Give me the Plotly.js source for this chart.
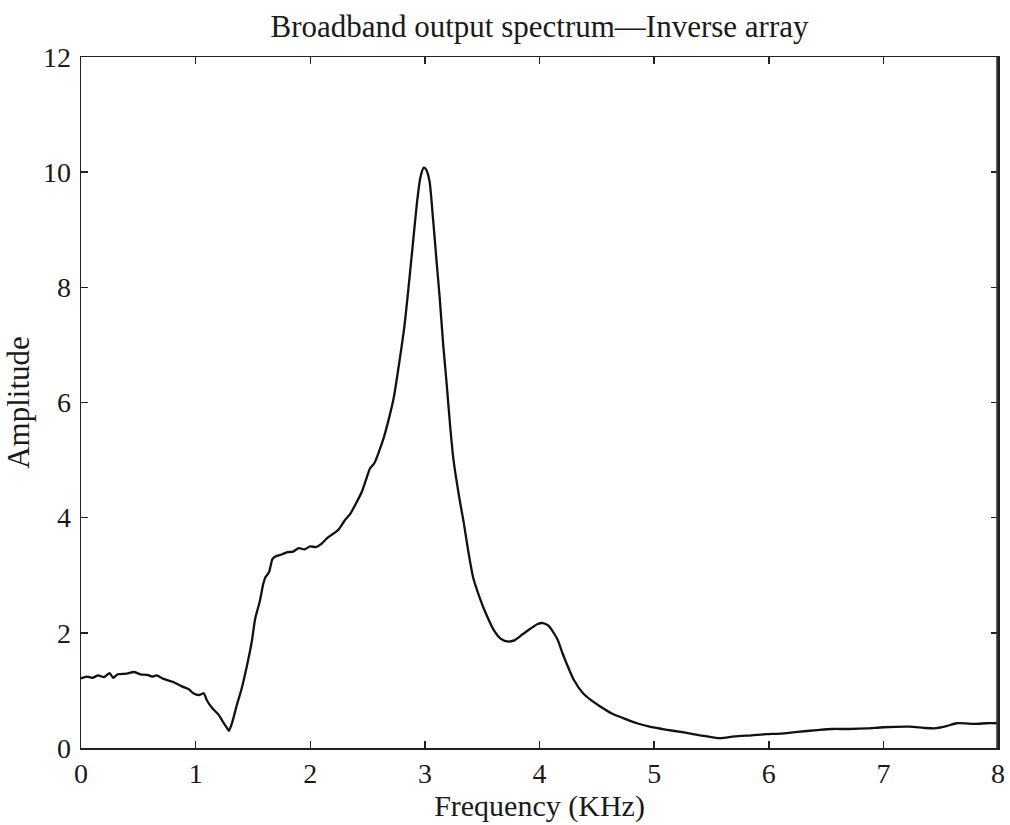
<!DOCTYPE html>
<html>
<head>
<meta charset="utf-8">
<script src="https://cdn.plot.ly/plotly-3.0.1.min.js"></script>
<style>html,body{margin:0;padding:0;background:#fff;}#chart{width:1010px;height:825px;}</style>
</head>
<body>
<div id="chart"></div>
<script>
const freq = [0.00,0.05,0.10,0.15,0.20,0.25,0.28,0.32,0.40,0.46,0.52,0.58,0.62,0.66,0.72,0.80,0.88,0.94,0.98,1.03,1.07,1.10,1.15,1.20,1.24,1.27,1.29,1.32,1.36,1.40,1.45,1.49,1.52,1.56,1.59,1.61,1.64,1.67,1.70,1.75,1.80,1.85,1.90,1.95,2.00,2.05,2.10,2.15,2.20,2.25,2.30,2.35,2.40,2.45,2.49,2.52,2.56,2.60,2.64,2.69,2.73,2.78,2.82,2.85,2.89,2.93,2.96,2.99,3.01,3.04,3.07,3.10,3.13,3.16,3.19,3.22,3.25,3.30,3.34,3.38,3.42,3.48,3.54,3.60,3.66,3.72,3.78,3.85,3.92,3.98,4.03,4.08,4.13,4.16,4.20,4.24,4.30,4.38,4.45,4.53,4.63,4.73,4.85,4.96,5.10,5.26,5.40,5.50,5.58,5.70,5.85,5.98,6.10,6.25,6.42,6.55,6.70,6.86,7.00,7.23,7.35,7.44,7.55,7.64,7.80,7.90,8.00];
const amplitude = [1.21,1.24,1.22,1.26,1.23,1.30,1.22,1.28,1.29,1.32,1.28,1.27,1.24,1.26,1.20,1.15,1.07,1.02,0.95,0.92,0.95,0.82,0.68,0.58,0.45,0.36,0.30,0.45,0.75,1.02,1.45,1.85,2.25,2.55,2.85,2.97,3.05,3.28,3.33,3.36,3.40,3.41,3.47,3.45,3.50,3.49,3.55,3.65,3.72,3.80,3.95,4.07,4.25,4.45,4.68,4.85,4.95,5.15,5.38,5.75,6.10,6.74,7.30,7.85,8.65,9.45,9.90,10.08,10.05,9.85,9.22,8.50,7.80,7.00,6.33,5.60,5.00,4.35,3.90,3.40,2.97,2.60,2.30,2.05,1.90,1.85,1.87,1.97,2.07,2.15,2.17,2.12,1.98,1.87,1.65,1.45,1.18,0.95,0.83,0.72,0.60,0.52,0.43,0.37,0.32,0.27,0.22,0.19,0.17,0.20,0.22,0.24,0.25,0.28,0.31,0.33,0.33,0.34,0.36,0.37,0.35,0.34,0.38,0.43,0.42,0.43,0.43];
const xTicks = [0,1,2,3,4,5,6,7,8];
const yTicks = [0,2,4,6,8,10,12];

const serif = 'Liberation Serif, DejaVu Serif, serif';
const trace = {
  x: freq, y: amplitude, type: 'scatter', mode: 'lines',
  line: {color: '#111', width: 2.3, shape: 'spline', smoothing: 0.6},
  hoverinfo: 'skip'
};
const axisCommon = {
  showgrid: false, zeroline: false, showline: true, linecolor: '#222', linewidth: 1.5,
  mirror: 'ticks', ticks: 'inside', ticklen: 7, tickwidth: 1.5, tickcolor: '#222',
  tickfont: {family: serif, size: 28, color: '#1a1a1a'}
};
const layout = {
  width: 1010, height: 825,
  margin: {l: 81, r: 12, t: 57, b: 77},
  paper_bgcolor: '#fff', plot_bgcolor: '#fff',
  showlegend: false,
  title: {text: 'Broadband output spectrum\u2014Inverse array', x: 0.5, xref: 'paper', y: 0.968, yref: 'container', yanchor: 'middle', font: {family: serif, size: 31, color: '#1a1a1a'}},
  xaxis: Object.assign({}, axisCommon, {range: [0, 8], tickvals: xTicks, ticktext: xTicks.map(String),
    title: {text: 'Frequency (KHz)', standoff: 0, font: {family: serif, size: 30, color: '#1a1a1a'}}}),
  yaxis: Object.assign({}, axisCommon, {range: [0, 12], tickvals: yTicks, ticktext: yTicks.map(String), ticklabelstandoff: 3,
    title: {text: 'Amplitude', standoff: 4, font: {family: serif, size: 31, color: '#1a1a1a'}}}),
  shapes: [{type: 'line', xref: 'x', yref: 'paper', x0: 8, x1: 8, y0: 0, y1: 1, line: {color: '#333', width: 3.5}}]
};
Plotly.newPlot('chart', [trace], layout, {displayModeBar: false, staticPlot: true});
</script>
</body>
</html>
